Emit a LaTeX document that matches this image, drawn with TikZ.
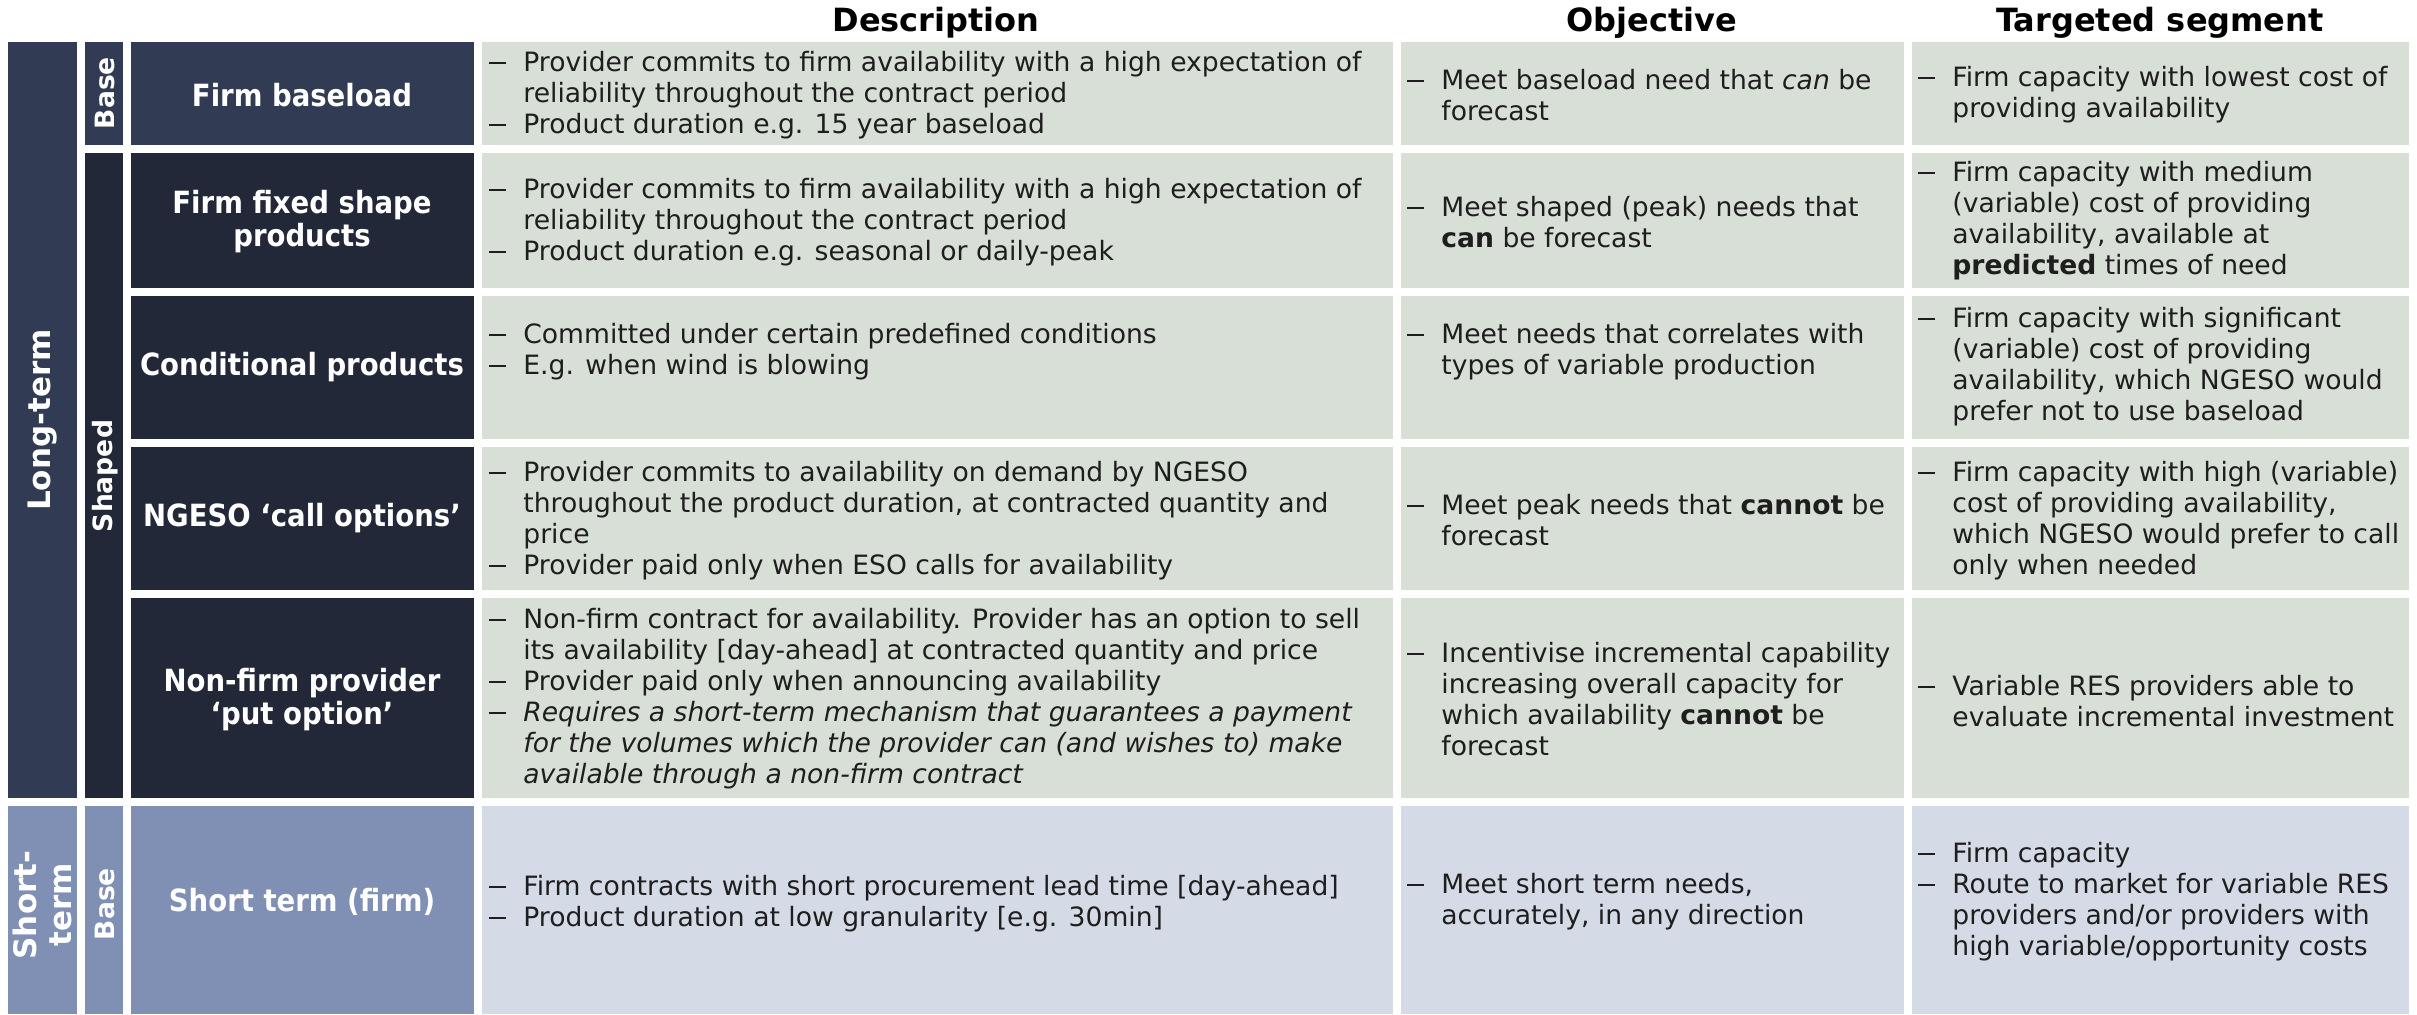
\documentclass[tikz,border=0pt]{standalone}
\usepackage{fontspec}
\setmainfont{DejaVu Sans}
\newfontfamily\condfont{DejaVu Sans Condensed}
\usetikzlibrary{positioning}

\definecolor{longblue}{HTML}{323B54}
\definecolor{shapedark}{HTML}{222838}
\definecolor{shortblue}{HTML}{8090B4}
\definecolor{greycell}{HTML}{D8DFD6}
\definecolor{bluecell}{HTML}{D4DAE6}
\definecolor{bodytext}{HTML}{1E1E1E}

\newcommand{\dsh}{\makebox[17pt][l]{\rule[0.29em]{8.5pt}{0.9pt}}}
\newcommand{\ind}{\hspace*{17pt}}

\tikzset{
  body/.style={anchor=west, align=left, inner sep=0pt, text=bodytext,
    font=\fontsize{13.3}{15.5}\selectfont},
  pname/.style={align=center, inner sep=0pt, text=white,
    font=\condfont\bfseries\fontsize{15.3}{16.5}\selectfont},
  vlabel/.style={rotate=90, align=center, inner sep=0pt, text=white,
    font=\bfseries\fontsize{15.5}{17.5}\selectfont},
  vsmall/.style={vlabel, font=\bfseries\fontsize{13.3}{15}\selectfont},
  hdr/.style={anchor=base, inner sep=0pt, text=black,
    font=\bfseries\fontsize{16}{18}\selectfont}
}

\begin{document}
\begin{tikzpicture}[x=0.5pt, y=-0.5pt]
  \useasboundingbox (0,0) rectangle (2417,1014);

  % side columns
  \fill[longblue] (8,42) rectangle (77,798);
  \fill[shortblue] (8,806) rectangle (77,1014);
  \fill[longblue] (85,42) rectangle (123,145);
  \fill[shapedark] (85,153) rectangle (123,798);
  \fill[shortblue] (85,806) rectangle (123,1014);

  % product column
  \fill[longblue] (131,42) rectangle (474,145);
  \foreach \ya/\yb in {153/288, 296/439, 447/590, 598/798}
    \fill[shapedark] (131,\ya) rectangle (474,\yb);
  \fill[shortblue] (131,806) rectangle (474,1014);

  % text cells
  \foreach \ya/\yb in {42/145, 153/288, 296/439, 447/590, 598/798} {
    \fill[greycell] (482,\ya) rectangle (1393,\yb);
    \fill[greycell] (1401,\ya) rectangle (1904,\yb);
    \fill[greycell] (1912,\ya) rectangle (2409,\yb);
  }
  \fill[bluecell] (482,806) rectangle (1393,1014);
  \fill[bluecell] (1401,806) rectangle (1904,1014);
  \fill[bluecell] (1912,806) rectangle (2409,1014);

  % headers
  \node[hdr] (hdesc) at (936,31) {Description};
  \node[hdr] (hobj) at (1652,31) {Objective};
  \node[hdr] (htgt) at (2160,31) {Targeted segment};

  % side labels
  \node[vlabel] (longterm) at (43,420) {Long-term};
  \node[vlabel] (shortterm) at (42,905) {Short-\\term};
  \node[vsmall] (base1) at (105,93) {Base};
  \node[vsmall] (shaped) at (105,476) {Shaped};
  \node[vsmall] (base2) at (105,904) {Base};

  % products
  \node[pname] (p1) at (302,95) {Firm baseload};
  \node[pname] (p2) at (302,222) {Firm fixed shape\\products};
  \node[pname] (p3) at (302,367) {Conditional products};
  \node[pname] (p4) at (302,518) {NGESO ‘call options’};
  \node[pname] (p5) at (302,700) {Non-firm provider\\‘put option’};
  \node[pname] (p6) at (302,902) {Short term (firm)};

  % descriptions
  \node[body] (d1) at (489,95) {\dsh Provider commits to firm availability with a high expectation of\\
    \ind reliability throughout the contract period\\
    \dsh Product duration e.g. 15 year baseload};
  \node[body] (d2) at (489,222) {\dsh Provider commits to firm availability with a high expectation of\\
    \ind reliability throughout the contract period\\
    \dsh Product duration e.g. seasonal or daily-peak};
  \node[body] (d3) at (489,352) {\dsh Committed under certain predefined conditions\\
    \dsh E.g. when wind is blowing};
  \node[body] (d4) at (489,521) {\dsh Provider commits to availability on demand by NGESO\\
    \ind throughout the product duration, at contracted quantity and\\
    \ind price\\
    \dsh Provider paid only when ESO calls for availability};
  \node[body] (d5) at (489,699) {\dsh Non-firm contract for availability. Provider has an option to sell\\
    \ind its availability [day-ahead] at contracted quantity and price\\
    \dsh Provider paid only when announcing availability\\
    \dsh \textit{Requires a short-term mechanism that guarantees a payment}\\
    \ind \textit{for the volumes which the provider can (and wishes to) make}\\
    \ind \textit{available through a non-firm contract}};
  \node[body] (d6) at (489,904) {\dsh Firm contracts with short procurement lead time [day-ahead]\\
    \dsh Product duration at low granularity [e.g. 30min]};

  % objectives
  \node[body] (o1) at (1407,95) {\dsh Meet baseload need that \textit{can} be\\
    \ind forecast};
  \node[body] (o2) at (1407,222) {\dsh Meet shaped (peak) needs that\\
    \ind \textbf{can} be forecast};
  \node[body] (o3) at (1407,352) {\dsh Meet needs that correlates with\\
    \ind types of variable production};
  \node[body] (o4) at (1407,520) {\dsh Meet peak needs that \textbf{cannot} be\\
    \ind forecast};
  \node[body] (o5) at (1407,699) {\dsh Incentivise incremental capability\\
    \ind increasing overall capacity for\\
    \ind which availability \textbf{cannot} be\\
    \ind forecast};
  \node[body] (o6) at (1407,902) {\dsh Meet short term needs,\\
    \ind accurately, in any direction};

  % targeted segments
  \node[body] (t1) at (1918,95) {\dsh Firm capacity with lowest cost of\\
    \ind providing availability};
  \node[body] (t2) at (1918,221) {\dsh Firm capacity with medium\\
    \ind (variable) cost of providing\\
    \ind availability, available at\\
    \ind \textbf{predicted} times of need};
  \node[body] (t3) at (1918,367) {\dsh Firm capacity with significant\\
    \ind (variable) cost of providing\\
    \ind availability, which NGESO would\\
    \ind prefer not to use baseload};
  \node[body] (t4) at (1918,521) {\dsh Firm capacity with high (variable)\\
    \ind cost of providing availability,\\
    \ind which NGESO would prefer to call\\
    \ind only when needed};
  \node[body] (t5) at (1918,701) {\dsh Variable RES providers able to\\
    \ind evaluate incremental investment};
  \node[body] (t6) at (1918,902) {\dsh Firm capacity\\
    \dsh Route to market for variable RES\\
    \ind providers and/or providers with\\
    \ind high variable/opportunity costs};
\end{tikzpicture}
\end{document}
